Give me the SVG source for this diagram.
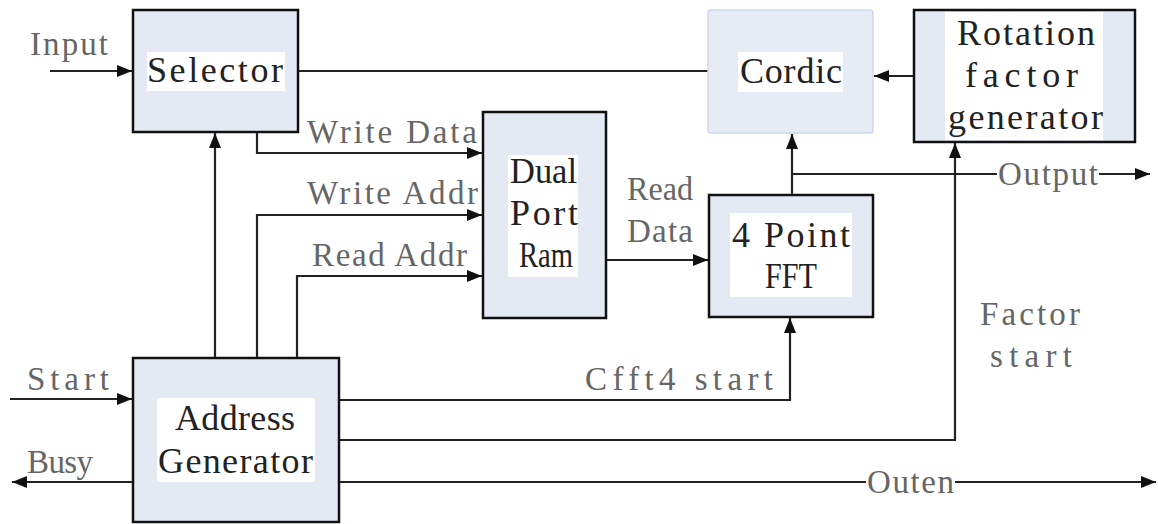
<svg xmlns="http://www.w3.org/2000/svg" width="1158" height="524" viewBox="0 0 1158 524">
  <style>
    .box { fill: #e4e9f4; stroke: #111; stroke-width: 2.5; }
    .soft { fill: #e6ebf6; stroke: #cfd8ea; stroke-width: 1.5; }
    .pad { fill: #ffffff; }
    .name { font-family: "Liberation Serif", "DejaVu Serif", serif; font-size: 36px; fill: #222; }
    .lbl { font-family: "Liberation Serif", "DejaVu Serif", serif; font-size: 33px; fill: #666; }
    .wire { fill: none; stroke: #222; stroke-width: 2.2; }
  </style>
  <defs>
    <marker id="arrow" markerUnits="userSpaceOnUse" markerWidth="16" markerHeight="12" refX="15" refY="6" orient="auto">
      <path d="M0,0 L15,6 L0,12 Z" fill="#111"/>
    </marker>
  </defs>

  <rect width="1158" height="524" fill="#ffffff"/>

  <!-- connectors -->
  <g id="connectors">
    <path class="wire" d="M50,71 H132" marker-end="url(#arrow)"/>
    <path class="wire" d="M298,71 H708"/>
    <path class="wire" d="M914,76 H874" marker-end="url(#arrow)"/>
    <path class="wire" d="M257,132 V153 H482" marker-end="url(#arrow)"/>
    <path class="wire" d="M215,358 V133" marker-end="url(#arrow)"/>
    <path class="wire" d="M257,358 V215 H482" marker-end="url(#arrow)"/>
    <path class="wire" d="M297,358 V276 H482" marker-end="url(#arrow)"/>
    <path class="wire" d="M606,260 H708" marker-end="url(#arrow)"/>
    <path class="wire" d="M792,195 V134" marker-end="url(#arrow)"/>
    <path class="wire" d="M792,174 H997"/>
    <path class="wire" d="M1099,174 H1150" marker-end="url(#arrow)"/>
    <path class="wire" d="M10,399 H132" marker-end="url(#arrow)"/>
    <path class="wire" d="M133,482 H12" marker-end="url(#arrow)"/>
    <path class="wire" d="M339,400 H790 V318" marker-end="url(#arrow)"/>
    <path class="wire" d="M339,440 H955 V143" marker-end="url(#arrow)"/>
    <path class="wire" d="M339,482 H866"/>
    <path class="wire" d="M955,482 H1156" marker-end="url(#arrow)"/>

    <text class="lbl" x="30" y="55" textLength="78" lengthAdjust="spacing">Input</text>
    <text class="lbl" x="27" y="390" textLength="82" lengthAdjust="spacing">Start</text>
    <text class="lbl" x="27" y="473" textLength="66" lengthAdjust="spacing">Busy</text>
    <text class="lbl" x="307" y="143" textLength="170" lengthAdjust="spacing">Write Data</text>
    <text class="lbl" x="307" y="204" textLength="171" lengthAdjust="spacing">Write Addr</text>
    <text class="lbl" x="312" y="266" textLength="155" lengthAdjust="spacing">Read Addr</text>
    <text class="lbl" x="627" y="200" textLength="66" lengthAdjust="spacingAndGlyphs">Read</text>
    <text class="lbl" x="627" y="242" textLength="66" lengthAdjust="spacing">Data</text>
    <text class="lbl" x="998" y="185" textLength="100" lengthAdjust="spacing">Output</text>
    <text class="lbl" x="585" y="390" textLength="188" lengthAdjust="spacing">Cfft4 start</text>
    <text class="lbl" x="980" y="325" textLength="100" lengthAdjust="spacing">Factor</text>
    <text class="lbl" x="990" y="367" textLength="82" lengthAdjust="spacing">start</text>
    <text class="lbl" x="867" y="493" textLength="87" lengthAdjust="spacing">Outen</text>
  </g>

  <!-- blocks -->
  <g id="selector">
    <rect class="box" x="133" y="10" width="165" height="122"/>
    <rect class="pad" x="147" y="52" width="138" height="39"/>
    <text class="name" x="147" y="82" textLength="136" lengthAdjust="spacing">Selector</text>
  </g>

  <g id="cordic">
    <rect class="soft" x="708" y="10" width="165" height="123" rx="3"/>
    <rect class="pad" x="738" y="52" width="105" height="40"/>
    <text class="name" x="740" y="83" textLength="102" lengthAdjust="spacing">Cordic</text>
  </g>

  <g id="rotation-factor-generator">
    <rect class="box" x="914" y="10" width="221" height="132"/>
    <rect class="pad" x="945" y="12" width="158" height="128"/>
    <text class="name" x="957" y="45" textLength="138" lengthAdjust="spacing">Rotation</text>
    <text class="name" x="965" y="87" textLength="113" lengthAdjust="spacing">factor</text>
    <text class="name" x="948" y="129" textLength="155" lengthAdjust="spacing">generator</text>
  </g>

  <g id="dual-port-ram">
    <rect class="box" x="483" y="112" width="123" height="206"/>
    <rect class="pad" x="508" y="155" width="70" height="122"/>
    <text class="name" x="510" y="183" textLength="67" lengthAdjust="spacingAndGlyphs">Dual</text>
    <text class="name" x="510" y="225" textLength="68" lengthAdjust="spacing">Port</text>
    <text class="name" x="519" y="267" textLength="54" lengthAdjust="spacingAndGlyphs">Ram</text>
  </g>

  <g id="fft4">
    <rect class="box" x="709" y="195" width="164" height="122"/>
    <rect class="pad" x="730" y="213" width="122" height="84"/>
    <text class="name" x="732" y="247" textLength="118" lengthAdjust="spacing">4 Point</text>
    <text class="name" x="765" y="288" textLength="52" lengthAdjust="spacingAndGlyphs">FFT</text>
  </g>

  <g id="address-generator">
    <rect class="box" x="133" y="358" width="206" height="164"/>
    <rect class="pad" x="157" y="398" width="158" height="84"/>
    <text class="name" x="175" y="430" textLength="120" lengthAdjust="spacing">Address</text>
    <text class="name" x="158" y="473" textLength="155" lengthAdjust="spacing">Generator</text>
  </g>
</svg>
